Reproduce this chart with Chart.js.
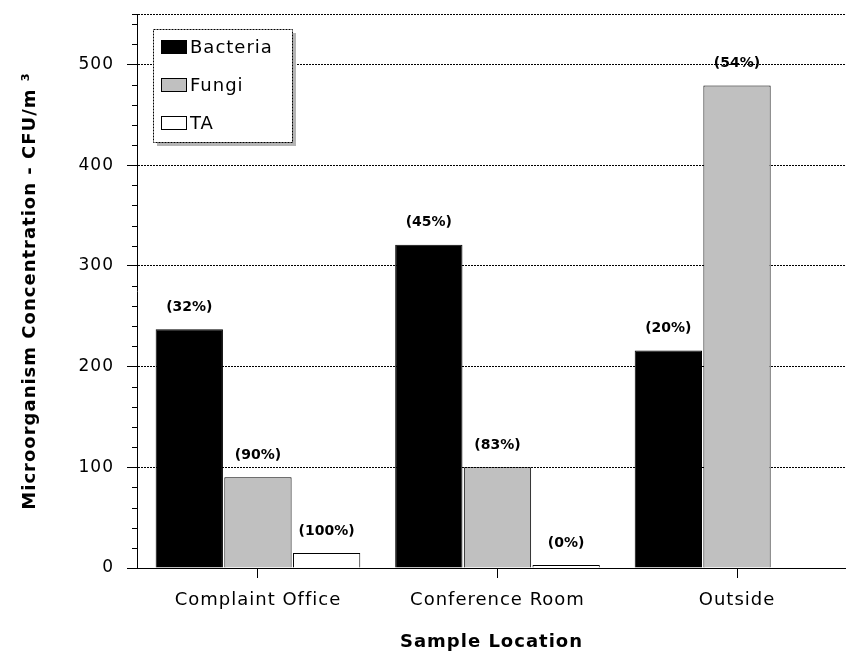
<!DOCTYPE html>
<html>
<head>
<meta charset="utf-8">
<script src="https://cdn.jsdelivr.net/npm/chart.js"></script>
<style>
  html, body { margin: 0; padding: 0; background: #fff; }
  #wrap { width: 846px; height: 656px; }
</style>
</head>
<body>
<div id="wrap"><canvas id="microChart"></canvas></div>
<script>
(function() {
    'use strict';

    const locations = ['Complaint Office', 'Conference Room', 'Outside'];
    const bacteria = [237, 321, 216];
    const fungi = [90, 100, 479];
    const ta = [15, 3, null];
    const bacteriaPct = ['(32%)', '(45%)', '(20%)'];
    const fungiPct = ['(90%)', '(83%)', '(54%)'];
    const taPct = ['(100%)', '(0%)', null];
    const yTicks = [0, 100, 200, 300, 400, 500];

    const FONT = '"DejaVu Sans", sans-serif';

    function toPoints(values) {
        return values.map((v, i) => ({ x: i, y: v }));
    }

    // the original bitmap font runs wide, so space the letters out a bit
    const spacing = {
        id: 'spacing',
        beforeUpdate(chart) { chart.ctx.letterSpacing = '1px'; },
        beforeDraw(chart) { chart.ctx.letterSpacing = '1px'; }
    };

    // percent labels above each bar
    const pctLabels = {
        id: 'pctLabels',
        afterDatasetsDraw(chart) {
            const ctx = chart.ctx;
            ctx.save();
            ctx.letterSpacing = '0px';
            ctx.font = 'bold 14px ' + FONT;
            ctx.fillStyle = '#000';
            ctx.textAlign = 'center';
            ctx.textBaseline = 'middle';
            chart.data.datasets.forEach((ds, di) => {
                const meta = chart.getDatasetMeta(di);
                meta.data.forEach((bar, i) => {
                    const txt = ds.pct[i];
                    if (!txt || ds.data[i].y == null) return;
                    ctx.fillText(txt, bar.x, bar.y - 22);
                });
            });
            ctx.restore();
        }
    };

    // small minor ticks on the y axis + boxed legend inside the plot
    const extras = {
        id: 'extras',
        afterDraw(chart) {
            const ctx = chart.ctx;
            const yScale = chart.scales.y;
            const area = chart.chartArea;
            ctx.save();
            ctx.strokeStyle = '#000';
            ctx.lineWidth = 1;
            yScale.ticks.forEach(t => {
                if (t.value % 100 === 0) return;
                const py = Math.round(yScale.getPixelForValue(t.value)) + 0.5;
                ctx.beginPath();
                ctx.moveTo(area.left - 5, py);
                ctx.lineTo(area.left, py);
                ctx.stroke();
            });

            const x = area.left + 16, y = area.top + 15, w = 139, h = 113;
            ctx.fillStyle = '#b4b4b4';
            ctx.fillRect(x + 4, y + 4, w, h);
            ctx.fillStyle = '#fff';
            ctx.fillRect(x, y, w, h);
            ctx.setLineDash([2, 1]);
            ctx.strokeRect(x + 0.5, y + 0.5, w, h);
            ctx.setLineDash([]);
            ctx.font = '18px ' + FONT;
            ctx.textBaseline = 'middle';
            chart.data.datasets.forEach((ds, i) => {
                const cy = y + 18 + i * 38;
                ctx.fillStyle = ds.backgroundColor;
                ctx.fillRect(x + 8, cy - 7, 25, 14);
                ctx.strokeRect(x + 8.5, cy - 6.5, 25, 13);
                ctx.fillStyle = '#000';
                ctx.fillText(ds.label, x + 37, cy + 1);
            });
            ctx.restore();
        }
    };

    const ctx = document.getElementById('microChart').getContext('2d');
    new Chart(ctx, {
        type: 'bar',
        data: {
            datasets: [
                { label: 'Bacteria', data: toPoints(bacteria), pct: bacteriaPct, backgroundColor: '#000000' },
                { label: 'Fungi', data: toPoints(fungi), pct: fungiPct, backgroundColor: '#c0c0c0' },
                { label: 'TA', data: toPoints(ta), pct: taPct, backgroundColor: '#ffffff' }
            ]
        },
        options: {
            responsive: true,
            maintainAspectRatio: false,
            animation: false,
            layout: { padding: { top: 14, right: 0, left: 0, bottom: 0 } },
            datasets: {
                bar: {
                    categoryPercentage: 0.86,
                    barPercentage: 0.98,
                    borderWidth: 1,
                    borderColor: '#000'
                }
            },
            plugins: {
                legend: { display: false },
                tooltip: { enabled: false }
            },
            scales: {
                x: {
                    type: 'linear',
                    position: 'bottom',
                    offset: false,
                    min: -0.505,
                    max: 2.455,
                    afterBuildTicks: (scale) => {
                        scale.ticks = locations.map((c, i) => ({ value: i }));
                    },
                    afterFit: (scale) => {
                        scale.height = 88;
                        scale.paddingLeft = 0;
                        scale.paddingRight = 0;
                    },
                    grid: { offset: false, drawOnChartArea: false, tickLength: 10, color: '#000' },
                    border: { color: '#000', width: 1 },
                    ticks: {
                        padding: 12,
                        color: '#000',
                        font: { family: FONT, size: 18 },
                        maxRotation: 0,
                        autoSkip: false,
                        callback: (v) => locations[v]
                    },
                    title: {
                        display: true,
                        text: 'Sample Location',
                        color: '#000',
                        font: { family: FONT, size: 18, weight: 'bold' },
                        padding: { top: 0, bottom: 3 }
                    }
                },
                y: {
                    min: 0,
                    max: 550,
                    afterBuildTicks: (scale) => {
                        const t = [];
                        for (let v = 0; v <= 540; v += 20) t.push({ value: v });
                        t.push({ value: 550 });
                        scale.ticks = t;
                    },
                    afterFit: (scale) => {
                        scale.width = 137;
                        scale.paddingTop = 0;
                        scale.paddingBottom = 0;
                    },
                    grid: {
                        tickLength: 10,
                        color: (c) => (c.tick && (c.tick.value % 100 === 0 || c.tick.value === 550)) ? '#000' : 'rgba(0,0,0,0)',
                        tickColor: (c) => (c.tick && yTicks.includes(c.tick.value)) ? '#000' : 'rgba(0,0,0,0)'
                    },
                    border: { color: '#000', width: 1, dash: [2, 1] },
                    ticks: {
                        padding: 13,
                        color: '#000',
                        font: { family: FONT, size: 17 },
                        autoSkip: false,
                        callback: (v) => yTicks.includes(v) ? String(v) : ''
                    },
                    title: {
                        display: true,
                        text: 'Microorganism Concentration - CFU/m ³',
                        color: '#000',
                        font: { family: FONT, size: 18, weight: 'bold' },
                        padding: { top: 20, bottom: 0 }
                    }
                }
            }
        },
        plugins: [spacing, pctLabels, extras]
    });
})();
</script>
</body>
</html>
